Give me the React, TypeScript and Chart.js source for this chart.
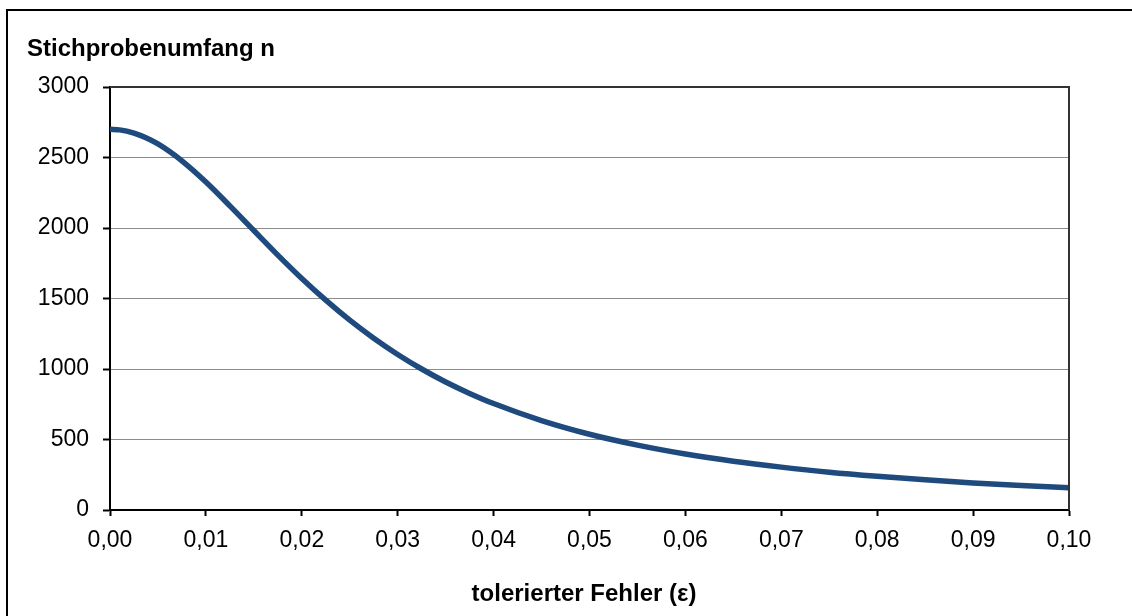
import React, { useEffect, useRef } from "react";
import { Chart, registerables } from "chart.js";

Chart.register(...registerables);

const epsilon = [
  0, 0.001, 0.0025, 0.00375, 0.005, 0.00625, 0.0075, 0.01, 0.0125, 0.015, 0.0175, 0.02, 0.0225,
  0.025, 0.0275, 0.03, 0.0325, 0.035, 0.0375, 0.04, 0.045, 0.05, 0.055, 0.06, 0.065, 0.07,
  0.075, 0.08, 0.085, 0.09, 0.095, 0.1,
];
const sampleSize = [
  2700, 2696, 2673, 2640, 2596, 2540, 2476, 2326, 2157, 1982, 1808, 1642, 1488,
  1346, 1218, 1103, 1000, 908, 827, 755, 634, 537, 460, 397, 346, 304,
  268, 239, 214, 192, 174, 158,
];
const yTitle = "Stichprobenumfang n";
const xTitle = "tolerierter Fehler (ε)";

const FONT = '"Liberation Sans", Arial, sans-serif';

export default function App() {
  const ref = useRef<HTMLCanvasElement | null>(null);

  useEffect(() => {
    if (!ref.current) return;
    const framePlugin = {
      id: "frame",
      afterDraw(chart: any) {
        const { ctx, chartArea } = chart;
        ctx.save();
        ctx.strokeStyle = "#333333";
        ctx.lineWidth = 2;
        ctx.beginPath();
        ctx.moveTo(chartArea.left, chartArea.top);
        ctx.lineTo(chartArea.right, chartArea.top);
        ctx.lineTo(chartArea.right, chartArea.bottom);
        ctx.stroke();
        ctx.strokeStyle = "#000000";
        ctx.lineWidth = 2;
        ctx.strokeRect(7, 10, 1140, 620);
        ctx.fillStyle = "#000000";
        ctx.font = `bold 24px ${FONT}`;
        ctx.textBaseline = "alphabetic";
        ctx.textAlign = "left";
        ctx.fillText(yTitle, 27, 56);
        ctx.textAlign = "center";
        ctx.fillText(xTitle, 584, 601);
        ctx.restore();
      },
    };

    const chart = new Chart(ref.current, {
      type: "line",
      data: {
        datasets: [
          {
            data: epsilon.map((e, i) => ({ x: e, y: sampleSize[i] })),
            borderColor: "#1F4A7E",
            borderWidth: 5.5,
            pointRadius: 0,
            cubicInterpolationMode: "monotone",
            fill: false,
          },
        ],
      },
      options: {
        animation: false,
        responsive: false,
        devicePixelRatio: 1,
        layout: { padding: { top: 87, right: 63, left: 0, bottom: 0 } },
        plugins: { legend: { display: false }, tooltip: { enabled: false } },
        scales: {
          x: {
            type: "linear",
            min: 0,
            max: 0.1,
            afterFit(scale: any) {
              scale.height = 106;
            },
            ticks: {
              stepSize: 0.01,
              color: "#000000",
              font: { family: FONT, size: 23 },
              padding: 11,
              maxRotation: 0,
              callback: (v: any) => Number(v).toFixed(2).replace(".", ","),
            },
            grid: {
              drawOnChartArea: false,
              drawTicks: true,
              tickLength: 6,
              tickColor: "#000000",
              tickWidth: 2,
            },
            border: { display: true, color: "#000000", width: 2 },
          },
          y: {
            min: 0,
            max: 3000,
            afterFit(scale: any) {
              scale.width = 110;
            },
            ticks: {
              stepSize: 500,
              color: "#000000",
              font: { family: FONT, size: 23 },
              padding: 14,
              callback: (v: any) => String(Math.round(Number(v))),
            },
            grid: {
              color: (c: any) =>
                c.tick && (c.tick.value === 0 || c.tick.value === 3000) ? "rgba(0,0,0,0)" : "#8c8c8c",
              lineWidth: 1,
              drawTicks: true,
              tickLength: 7,
              tickColor: "#000000",
              tickWidth: 2,
            },
            border: { display: true, color: "#000000", width: 2 },
          },
        },
      },
      plugins: [framePlugin],
    });
    return () => chart.destroy();
  }, []);

  return (
    <div style={{ position: "fixed", left: 0, top: 0, width: 1132, height: 616, background: "#ffffff" }}>
      <canvas ref={ref} width={1132} height={616} style={{ display: "block" }} />
    </div>
  );
}
